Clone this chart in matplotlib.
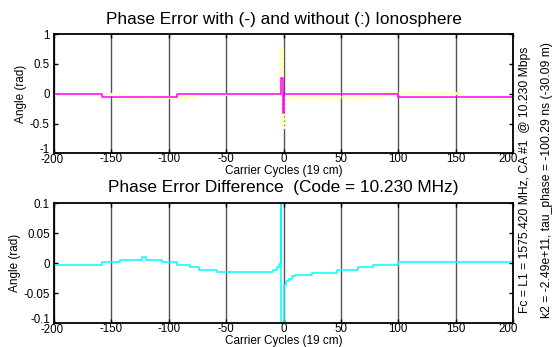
import numpy as np
import matplotlib
matplotlib.use("Agg")
import matplotlib.pyplot as plt
from matplotlib.transforms import ScaledTranslation

plt.rcParams['font.family'] = ['Liberation Sans', 'DejaVu Sans']

# top panel: phase error with ionosphere (solid) / without (dotted)
x_with = [-200, -158, -92.5, -2.3, -0.8, 0.2, 100, 200]
y_with = [-0.01, -0.05, -0.01, 0.26, -0.33, -0.01, -0.05, -0.05]
x_without = [-200, -142, -92.5, -77, -3.4, -1.3, 0, 85.6, 155.3, 200]
y_without = [-0.01, -0.05, -0.06, -0.01, 0.76, -0.55, -0.05, 0.008, -0.065, -0.065]

# bottom panel: difference
x_diff = [-200, -158, -142.5, -123.6, -120, -105.6, -93, -81.5, -73.6, -57.7,
          -9.4, -5.5, -3.7, -2.4, -1.8, 0.2, 2.2, 4.5, 7, 10, 24.5, 47, 65, 78, 100, 200]
y_diff = [-0.003, 0.002, 0.006, 0.010, 0.006, 0.002, -0.003, -0.007, -0.011, -0.015,
          -0.011, -0.006, -0.002, 0.5, -0.5, -0.037, -0.030, -0.026, -0.022, -0.020,
          -0.017, -0.011, -0.007, -0.003, 0.002, 0.002]

xticks = [-200, -150, -100, -50, 0, 50, 100, 150, 200]
top_yticks = [-1, -0.5, 0, 0.5, 1]
top_ylabels = ['-1', '-0.5', '0', '0.5', '1']
bot_yticks = [-0.1, -0.05, 0, 0.05, 0.1]
bot_ylabels = ['-0.1', '-0.05', '0', '0.05', '0.1']

fig = plt.figure(figsize=(5.58, 3.47), dpi=100)
ax1 = fig.add_axes([0.0968, 0.558, 0.8226, 0.344])
ax2 = fig.add_axes([0.0968, 0.0683, 0.8226, 0.346])


def nudge(lab, dx, dy):
    # shift a tick label by dx, dy pixels
    lab.set_transform(lab.get_transform() + ScaledTranslation(dx / 100, dy / 100, fig.dpi_scale_trans))


def style(ax, yticks, ylabels, ylim):
    ax.set_xlim(-200, 200)
    ax.set_ylim(*ylim)
    ax.set_xticks(xticks)
    ax.set_xticklabels([str(t) for t in xticks])
    ax.set_yticks(yticks)
    ax.set_yticklabels(ylabels)
    ax.grid(axis='x', color='#555555', lw=1.0)
    ax.set_axisbelow(True)
    ax.tick_params(direction='in', length=3, width=1, top=True, right=True,
                   labelsize=8.3, colors='black')
    ax.tick_params(axis='x', pad=0)
    ax.tick_params(axis='y', pad=3)
    for s in ax.spines.values():
        s.set_linewidth(1.3)
    ax.set_xlabel('Carrier Cycles (19 cm)', fontsize=8.5, labelpad=-1)
    ax.set_ylabel('Angle (rad)', fontsize=8.5, labelpad=2)
    # corner labels sit off-centre in the original
    nudge(ax.get_yticklabels()[0], 0, 5)
    nudge(ax.get_xticklabels()[0], -2, -1)
    nudge(ax.get_xticklabels()[-1], -5, 0)


ax1.plot(x_without, y_without, drawstyle='steps-post', color='#ffffb8', lw=2.2,
         linestyle=(0, (1, 0.4)))
ax1.plot(x_with, y_with, drawstyle='steps-post', color='#ff00ff', lw=1.1)
style(ax1, top_yticks, top_ylabels, (-1, 1))
ax1.set_title('Phase Error with (-) and without (:) Ionosphere', fontsize=12.4, pad=7)

ax2.plot(x_diff, y_diff, drawstyle='steps-post', color='#00ffff', lw=1.1)
style(ax2, bot_yticks, bot_ylabels, (-0.1, 0.1))
ax2.set_title('Phase Error Difference  (Code = 10.230 MHz)', fontsize=12.4, pad=8)

fig.text(0.941, 0.481, 'Fc = L1 = 1575.420 MHz, CA #1  @ 10.230 Mbps',
         rotation=90, ha='center', va='center', fontsize=8.7)
fig.text(0.980, 0.481, 'k2 = -2.49e+11, tau_phase = -100.29 ns (-30.09 m)',
         rotation=90, ha='center', va='center', fontsize=8.7)

fig.savefig('out.png', dpi=100)
